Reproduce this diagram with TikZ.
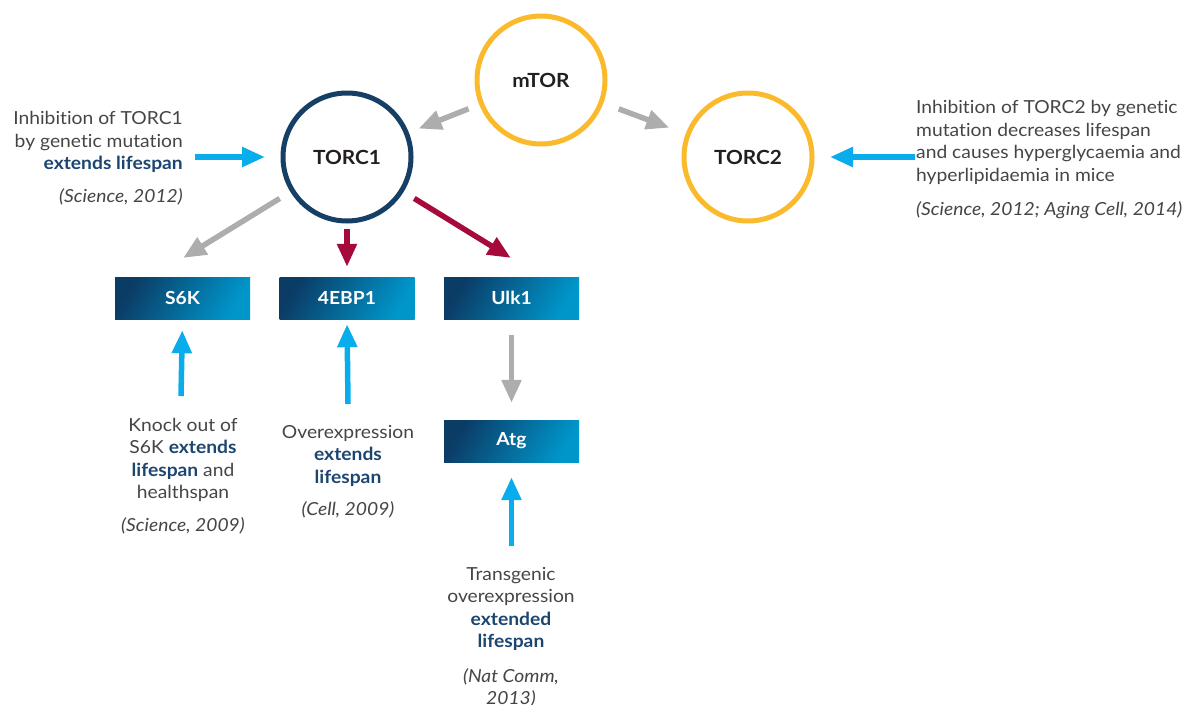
\documentclass[tikz,border=0pt]{standalone}
\usepackage{fontspec}
\setmainfont{Lato}[FakeStretch=1.07, Ligatures=NoCommon]
\usetikzlibrary{arrows.meta,calc}
\definecolor{navyc}{HTML}{163F66}
\definecolor{yellowc}{HTML}{FBBA2C}
\definecolor{grayarr}{HTML}{ADADAD}
\definecolor{redarr}{HTML}{A50A3A}
\definecolor{bluearr}{HTML}{0AADEB}
\definecolor{txtgray}{HTML}{454545}
\definecolor{boldblue}{HTML}{1C4570}
\definecolor{boxdark}{HTML}{0B3C66}
\definecolor{boxlight}{HTML}{0096CA}
\definecolor{nodetxt}{HTML}{231F20}
\newcommand{\hl}[1]{\textbf{\color{boldblue}#1}}
\tikzset{
  ring/.style={circle, draw=#1, line width=5pt, inner sep=0pt, minimum size=128pt,
    font=\fontsize{19.5}{22}\selectfont\bfseries, text=nodetxt},
  genebox/.style={rectangle, inner sep=0pt, minimum width=135pt, minimum height=42pt,
    left color=boxdark, right color=boxlight, shading angle=60,
    font=\fontsize{18}{20}\selectfont\bfseries, text=white},
  note/.style={inner sep=0pt, text=txtgray, font=\fontsize{18}{22.5}\selectfont},
  arr/.style={line width=5.5pt, -{Triangle[length=23pt,width=19pt]}},
  grayA/.style={arr, draw=grayarr, fill=grayarr},
  redA/.style={arr, draw=redarr, fill=redarr},
  blueA/.style={arr, draw=bluearr, fill=bluearr},
}
\begin{document}
\begin{tikzpicture}[x=1pt,y=-1pt]
\useasboundingbox (0,0) rectangle (1188,704);

% circles
\node[ring=yellowc] (mtor) at (541,80) {mTOR};
\node[ring=navyc] (torc1) at (347,157) {TORC1};
\node[ring=yellowc] (torc2) at (748,157) {TORC2};

% boxes
\node[genebox] (s6k) at (182.5,298) {S6K};
\node[genebox] (ebp) at (347,298) {4EBP1};
\node[genebox] (ulk) at (511.5,298) {Ulk1};
\node[genebox] (atg) at (511.5,441) {Atg};

% free-end coordinates
\coordinate (inL) at (195,157);
\coordinate (inR) at (915,157);
\coordinate (inS) at (181,396);
\coordinate (inE) at (348,404);
\coordinate (inA) at (511.5,546);

% texts
\node[note, align=right, anchor=north east] (tL) at (183,111.5)
  {Inhibition of TORC1\\ by genetic mutation\\ \hl{extends lifespan}\\[10pt] \textit{(Science, 2012)}};
\node[note, align=left, anchor=north west] (tR) at (916,100.5)
  {Inhibition of TORC2 by genetic\\ mutation decreases lifespan\\ and causes hyperglycaemia and\\ hyperlipidaemia in mice\\[12pt] \textit{(Science, 2012; Aging Cell, 2014)}};
\node[note, align=center, anchor=north] (tS) at (183,418)
  {Knock out of\\ S6K \hl{extends}\\ \hl{lifespan} and\\ healthspan\\[10pt] \textit{(Science, 2009)}};
\node[note, align=center, anchor=north] (tE) at (348,425)
  {Overexpression\\ \hl{extends}\\ \hl{lifespan}\\[10pt] \textit{(Cell, 2009)}};
\node[note, align=center, anchor=north] (tA) at (511,567)
  {Transgenic\\ overexpression\\ \hl{extended}\\ \hl{lifespan}\\[12pt] \textit{(Nat Comm,}\\ \textit{2013)}};

% connectors
\draw[grayA, shorten <=78pt, shorten >=77pt] (mtor.center) -- (torc1.center);
\draw[grayA, shorten <=83pt, shorten >=84pt] (mtor.center) -- (torc2.center);
\draw[blueA, shorten >=82pt] (inL) -- (torc1.center);
\draw[blueA, shorten >=82pt] (inR) -- (torc2.center);
\draw[grayA, shorten <=79pt, shorten >=36pt] (torc1.center) -- ($(s6k.north)+(-30,0)$);
\draw[redA, shorten <=72pt, shorten >=10pt] (torc1.center) -- (ebp.north);
\draw[redA, shorten <=79pt, shorten >=36pt] (torc1.center) -- ($(ulk.north)+(30,0)$);
\draw[grayA, shorten <=16pt, shorten >=17pt] (ulk.south) -- (atg.north);
\draw[blueA, shorten >=11pt] (inS) -- (s6k.south);
\draw[blueA, shorten >=5pt] (inE) -- (ebp.south);
\draw[blueA, shorten >=15pt] (inA) -- (atg.south);
\end{tikzpicture}
\end{document}
